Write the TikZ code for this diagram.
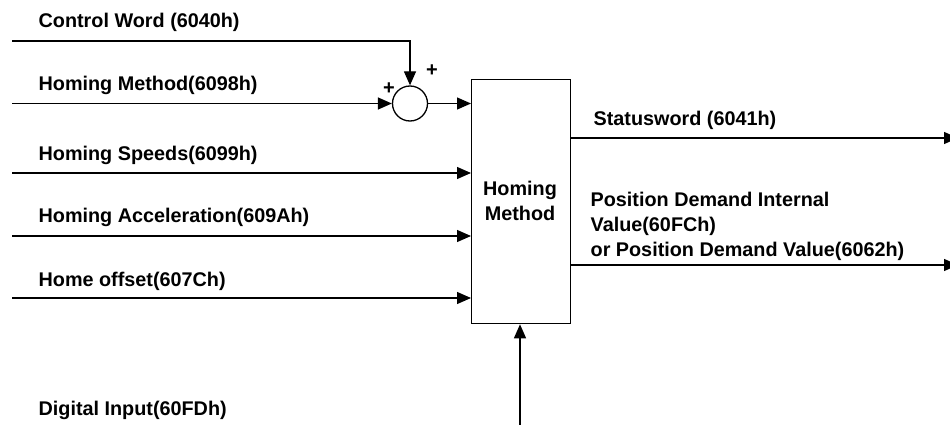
\documentclass[tikz,border=0pt]{standalone}
\usepackage{fontspec}
\setmainfont{Liberation Sans}
\usetikzlibrary{arrows.meta}
\begin{document}
\begin{tikzpicture}[x=1pt,y=-1pt, line width=1.3pt,
  >={Triangle[length=14pt,width=12pt]},
  lbl/.style={anchor=west, font=\bfseries\fontsize{19.8}{25}\selectfont, inner sep=0pt},
  sgn/.style={font=\bfseries\fontsize{20}{22}\selectfont, inner sep=0pt}]
\useasboundingbox (0,0) rectangle (950,425);
\node[draw, minimum width=99pt, minimum height=244pt, anchor=north west, inner sep=0pt] (hm) at (471,79) {};
\node[lbl, align=center, anchor=center] (hmt) at (520,201) {Homing\\Method};
\node[circle, draw, minimum size=35pt, inner sep=0pt] (sum) at (410,103.5) {};
\node[sgn] (p1) at (389,89) {+};
\node[sgn] (p2) at (432,71) {+};
% free ends
\coordinate (cw0) at (12,41);
\coordinate (hmm0) at (12,103.5);
\coordinate (hs0) at (12,173);
\coordinate (ha0) at (12,236);
\coordinate (ho0) at (12,298);
\coordinate (sw1) at (958,138);
\coordinate (pd1) at (958,265);
\coordinate (di0) at (520,430);
% connectors
\draw[->] (cw0) -| (sum.north);
\draw[->] (hmm0) -- (sum.west);
\draw[->] (sum.east) -- (sum.east -| hm.west);
\draw[->] (hs0) -- (hs0 -| hm.west);
\draw[->] (ha0) -- (ha0 -| hm.west);
\draw[->] (ho0) -- (ho0 -| hm.west);
\draw[->] (sw1 -| hm.east) -- (sw1);
\draw[->] (pd1 -| hm.east) -- (pd1);
\draw[->] (di0) -- (di0 |- hm.south);
% labels
\node[lbl] (l1) at (38,22) {Control Word (6040h)};
\node[lbl] (l2) at (38,85) {Homing Method(6098h)};
\node[lbl] (l3) at (38,155) {Homing Speeds(6099h)};
\node[lbl] (l4) at (38,217) {Homing Acceleration(609Ah)};
\node[lbl] (l5) at (38,281) {Home offset(607Ch)};
\node[lbl] (l6) at (38,410) {Digital Input(60FDh)};
\node[lbl] (l7) at (593,120) {Statusword (6041h)};
\node[lbl, align=left] (l8) at (590,226) {Position Demand Internal\\Value(60FCh)\\or Position Demand Value(6062h)};
\end{tikzpicture}
\end{document}
